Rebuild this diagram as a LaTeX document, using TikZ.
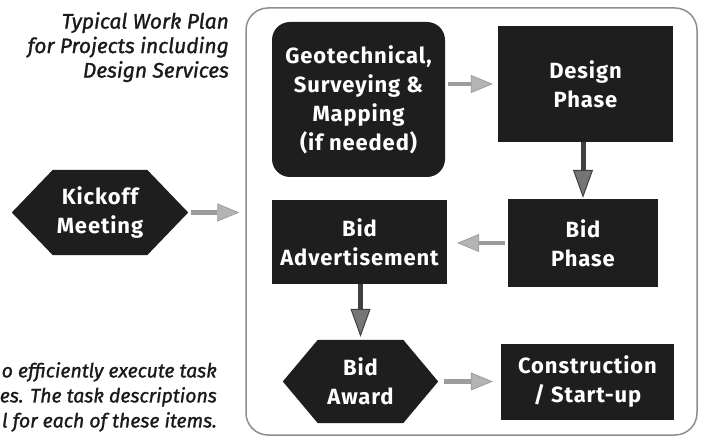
\documentclass[tikz,border=0pt]{standalone}
\usepackage{fontspec}
\setmainfont{Fira Sans}
\newfontfamily\boxfont[LetterSpace=4]{Fira Sans}
\newfontfamily\notefont[FakeBold=1.3]{Fira Sans}
\usetikzlibrary{arrows.meta,calc,backgrounds}
\definecolor{boxfill}{HTML}{1E1E1E}
\definecolor{framegray}{HTML}{8E8E8E}
\definecolor{arrgray}{HTML}{9C9C9C}
\definecolor{arrhead}{HTML}{B4B4B4}
\definecolor{darkshaft}{HTML}{404040}
\definecolor{darkhead}{HTML}{757575}
\definecolor{textdark}{HTML}{1A1A1A}
\begin{document}
\begin{tikzpicture}[x=1pt,y=-1pt,
  boxtext/.style={text=white, font=\boxfont\bfseries\fontsize{22}{29}\selectfont, align=center, inner sep=0pt},
  box/.style={boxtext, fill=boxfill},
  hexnode/.style={boxtext},
  lightarrow/.style={draw=arrgray, line width=4.5pt,
    -{Triangle[length=22pt,width=18pt,line width=0.8pt,fill=arrhead]}},
  darkarrow/.style={draw=darkshaft, line width=5pt,
    -{Triangle[length=28pt,width=20pt,line width=1pt,fill=darkhead]}},
  note/.style={text=textdark, font=\notefont\itshape\fontsize{21}{24.5}\selectfont, align=right, inner sep=0pt}
]
\useasboundingbox (0,0) rectangle (706,438);
\begin{pgfonlayer}{background}
\fill[white] (0,0) rectangle (706,438);
\end{pgfonlayer}

% frame
\node[draw=framegray, line width=1.5pt, rounded corners=22pt, minimum width=451pt, minimum height=427pt, inner sep=0pt] (frame) at (471.5,221.5) {};

% title and note
\node[note, anchor=north east] (title) at (229,12) {Typical Work Plan\\for Projects including\\Design Services};
\node[note, anchor=north east, font=\notefont\itshape\fontsize{19.5}{25}\selectfont] (desc) at (217,362) {o efficiently execute task\\es. The task descriptions\\l for each of these items.};

% boxes
\node[box, rounded corners=18pt, minimum width=173pt, minimum height=155pt] (geo) at (358.5,99.5) {Geotechnical,\\Surveying \&\\Mapping\\(if needed)};
\node[box, minimum width=175pt, minimum height=116pt] (design) at (585.5,84) {Design\\Phase};
\node[box, minimum width=150pt, minimum height=88pt] (bidphase) at (583,243) {Bid\\Phase};
\node[box, minimum width=175pt, minimum height=84pt] (bidadv) at (359.5,242) {Bid\\Advertisement};
\node[box, minimum width=173pt, minimum height=76pt] (constr) at (587.5,382) {Construction\\/ Start-up};
\node[hexnode, minimum width=176pt, minimum height=85pt] (kick) at (100,212.5) {Kickoff\\Meeting};
\node[hexnode, minimum width=155pt, minimum height=83pt] (award) at (360.5,381.5) {Bid\\Award};

\begin{scope}[on background layer]
\fill[boxfill] (kick.west) -- ($(kick.north west)+(41,0)$) -- ($(kick.north east)+(-41,0)$) -- (kick.east)
  -- ($(kick.south east)+(-41,0)$) -- ($(kick.south west)+(41,0)$) -- cycle;
\fill[boxfill] (award.west) -- ($(award.north west)+(35,0)$) -- ($(award.north east)+(-35,0)$) -- (award.east)
  -- ($(award.south east)+(-35,0)$) -- ($(award.south west)+(35,0)$) -- cycle;
\end{scope}

% connectors
\coordinate (kin) at (frame.west |- kick.east);
\draw[lightarrow, shorten <=3pt, shorten >=6pt] (kick.east) -- (kin);
\draw[lightarrow, shorten <=3pt, shorten >=5pt] (geo.east |- design.west) -- (design.west);
\draw[darkarrow, shorten >=1pt] (design.south -| bidphase.north) -- (bidphase.north);
\draw[lightarrow, line width=3.5pt, shorten <=3pt, shorten >=10pt] (bidphase.west) -- (bidadv.east |- bidphase.west);
\draw[darkarrow, shorten >=3pt] (bidadv.south -| award.north) -- (award.north);
\draw[lightarrow, shorten <=6pt, shorten >=8pt] (award.east) -- (constr.west |- award.east);
\end{tikzpicture}
\end{document}
